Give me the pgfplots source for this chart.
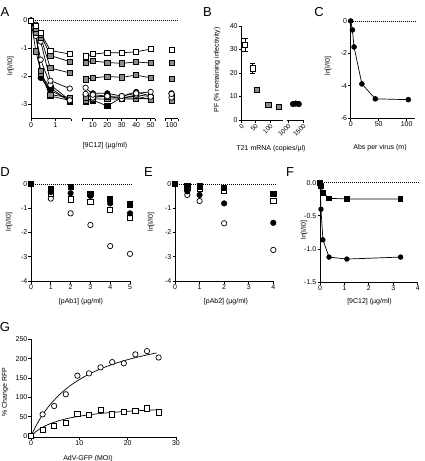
\documentclass[border=0pt]{standalone}
\usepackage{fontspec}
\setmainfont{Liberation Sans}
\usepackage{pgfplots}
\usepackage{pgfplotstable}
\pgfplotsset{compat=1.18}

\newcommand{\tl}{\fontsize{7}{8}\selectfont}
\newcommand{\pl}{\fontsize{13}{14}\selectfont}

\pgfplotsset{
  pr/.style={
    scale only axis, anchor=south west, clip=false,
    axis x line*=bottom, axis y line*=left,
    axis line style={line width=0.9pt, -},
    tick align=outside, major tick length=2.5pt,
    every tick/.append style={line width=0.9pt, black},
    tick label style={font=\tl, inner sep=1pt},
    enlargelimits=false,
  },
  noy/.style={axis y line=none, ytick=\empty},
  ln/.style={black, line width=0.7pt},
  osq/.style={mark=square*, mark size=2.6pt, mark options={fill=white, draw=black, line width=0.7pt, solid}},
  gsq/.style={mark=square*, mark size=2.6pt, mark options={fill=black!45, draw=black, line width=0.7pt, solid}},
  bsq/.style={mark=square*, mark size=2.6pt, mark options={fill=black, draw=black, line width=0.7pt, solid}},
  oci/.style={mark=*, mark size=2.7pt, mark options={fill=white, draw=black, line width=0.7pt, solid}},
  bci/.style={mark=*, mark size=2.7pt, mark options={fill=black, draw=black, line width=0.7pt, solid}},
  zero/.style={black, line width=0.6pt, dash pattern=on 0.8pt off 1.2pt},
  rotlab/.style={xticklabel style={rotate=45, anchor=north east, inner sep=0.5pt,
      font=\fontsize{6.5}{7}\selectfont}},
}

% Panel A: 9C12 titration, broken x axis (three segments)
\pgfplotstableread{
x    s1    s2    s3    s4    s5    s6    s7    s8    s9
0    0     0     0     0     0     0     0     0     0
0.2  -0.18 -0.30 -0.42 -0.15 -0.55 -1.10 -0.33 -0.30 -0.40
0.4  -0.45 -0.50 -0.60 -0.75 -1.40 -1.80 -2.05 -1.95 -1.90
0.8  -1.07 -1.25 -1.70 -2.15 -2.30 -2.65 -2.50 -2.40 -2.70
1.6  -1.20 -1.47 -1.87 -2.43 -2.85 -2.75 -2.85 -2.90 -2.85
}\Aone
\pgfplotstableread{
x    s1    s2    s3    s4    s5    s6    s7    s8    s9
5    -1.28 -1.50 -2.10 -2.40 -2.62 -2.75 -2.65 -2.90 -2.85
10   -1.20 -1.45 -2.05 -2.65 -2.75 -2.70 -2.60 -2.85 -2.80
20   -1.15 -1.50 -2.00 -2.70 -2.70 -2.72 -2.60 -3.05 -2.80
30   -1.15 -1.53 -2.03 -2.70 -2.80 -2.75 -2.70 -2.75 -2.80
40   -1.12 -1.48 -1.95 -2.60 -2.65 -2.70 -2.55 -2.78 -2.80
50   -1.02 -1.52 -2.05 -2.55 -2.72 -2.82 -2.70 -2.80 -2.78
}\Atwo
\pgfplotstableread{
x    s1    s2    s3    s4    s5    s6    s7    s8    s9
100  -1.05 -1.50 -2.08 -2.62 -2.75 -2.72 -2.60 -2.82 -2.85
}\Athree

% Panel B: PF versus T21 mRNA (x given as axis position)
\pgfplotstableread{
pos   pf    err
3.7   32.0  2.7
11.4  22.0  2.1
}\Bopen
\pgfplotstableread{
pos   pf
15.4  13.0
27.0  6.4
37.7  5.5
}\Bgray
\pgfplotstableread{
pos   pf
51.7  6.8
54.5  7.0
57.5  6.8
}\Bblack

% Panel D: pAb1
\pgfplotstableread{
x  oc     os     bc     bs
0  0      0      0      0
1  -0.60  -0.42  -0.33  -0.22
2  -1.21  -0.63  -0.38  -0.11
3  -1.69  -0.73  -0.49  -0.41
4  -2.56  -1.07  -0.80  -0.62
5  -2.88  -1.39  -1.21  -0.84
}\Dtab

% Panel E: pAb2
\pgfplotstableread{
x    oc     os     bc     bs
0    0      0      0      0
0.5  -0.45  -0.15  -0.30  -0.08
1    -0.70  -0.20  -0.45  -0.10
2    -1.62  -0.28  -0.80  -0.15
4    -2.72  -0.68  -1.60  -0.42
}\Etab

% Panel G: RFP change versus MOI
\pgfplotstableread{
moi   circ   sq
0     0      0
2.4   56     15.5
4.8   77.5   26
7.2   108    34.5
9.6   156    57
12    162    54
14.4  177.5  67
16.8  191    56
19.2  188    63
21.6  211    65.5
24    219.5  71.5
26.4  203    61
}\Gtab

\begin{document}
\begin{tikzpicture}
\useasboundingbox (0,0) rectangle (424pt,-461pt);

% ---------------- A ----------------
\begin{axis}[pr, at={(31pt,-118.5pt)}, width=40pt, height=98pt,
  xmin=0, xmax=1.65, ymin=-3.5, ymax=0,
  xtick={0,1}, xticklabels={0,1},
  ytick={-3,-2,-1,0}, yticklabels={-3,-2,-1,0},
  extra x ticks={1.65}, extra x tick labels={}]
\addplot[zero] coordinates {(0,0) (6.05,0)};
\addplot[ln, bsq] table[x=x, y=s8] {\Aone};
\addplot[ln, bci] table[x=x, y=s7] {\Aone};
\addplot[ln, gsq] table[x=x, y=s9] {\Aone};
\addplot[ln, gsq] table[x=x, y=s6] {\Aone};
\addplot[ln, oci] table[x=x, y=s5] {\Aone};
\addplot[ln, oci] table[x=x, y=s4] {\Aone};
\addplot[ln, gsq] table[x=x, y=s3] {\Aone};
\addplot[ln, gsq] table[x=x, y=s2] {\Aone};
\addplot[ln, osq] table[x=x, y=s1] {\Aone};
\end{axis}

\begin{axis}[pr, noy, at={(82pt,-118.5pt)}, width=73pt, height=98pt,
  xmin=2.5, xmax=53, ymin=-3.5, ymax=0,
  xtick={10,20,30,40,50}, xticklabels={10,20,30,40,50},
  extra x ticks={2.5,53}, extra x tick labels={,}]
\addplot[ln, bsq] table[x=x, y=s8] {\Atwo};
\addplot[ln, bci] table[x=x, y=s7] {\Atwo};
\addplot[ln, gsq] table[x=x, y=s9] {\Atwo};
\addplot[ln, gsq] table[x=x, y=s6] {\Atwo};
\addplot[ln, oci] table[x=x, y=s5] {\Atwo};
\addplot[ln, oci] table[x=x, y=s4] {\Atwo};
\addplot[ln, gsq] table[x=x, y=s3] {\Atwo};
\addplot[ln, gsq] table[x=x, y=s2] {\Atwo};
\addplot[ln, osq] table[x=x, y=s1] {\Atwo};
\end{axis}

\begin{axis}[pr, noy, at={(165pt,-118.5pt)}, width=13pt, height=98pt,
  xmin=95.5, xmax=104.5, ymin=-3.5, ymax=0,
  xtick={100}, xticklabels={100},
  extra x ticks={95.5,104.5}, extra x tick labels={,}]
\addplot[only marks, bsq] table[x=x, y=s8] {\Athree};
\addplot[only marks, bci] table[x=x, y=s7] {\Athree};
\addplot[only marks, gsq] table[x=x, y=s9] {\Athree};
\addplot[only marks, gsq] table[x=x, y=s6] {\Athree};
\addplot[only marks, oci] table[x=x, y=s5] {\Athree};
\addplot[only marks, oci] table[x=x, y=s4] {\Athree};
\addplot[only marks, gsq] table[x=x, y=s3] {\Athree};
\addplot[only marks, gsq] table[x=x, y=s2] {\Athree};
\addplot[only marks, osq] table[x=x, y=s1] {\Athree};
\end{axis}

% ---------------- B ----------------
\begin{axis}[pr, rotlab, at={(241.3pt,-120pt)}, width=42pt, height=94pt,
  xmin=0, xmax=42, ymin=0, ymax=40,
  xtick={0,14,28.7}, xticklabels={0,50,100},
  ytick={0,10,20,30,40}, yticklabels={0,10,20,30,40}]
\addplot[only marks, osq, error bars/.cd, y dir=both, y explicit,
  error bar style={line width=0.8pt},
  error mark options={rotate=90, mark size=2.6pt, line width=0.8pt}]
  table[x=pos, y=pf, y error=err] {\Bopen};
\addplot[only marks, gsq] table[x=pos, y=pf] {\Bgray};
\end{axis}

\begin{axis}[pr, noy, rotlab, at={(287pt,-120pt)}, width=16pt, height=94pt,
  xmin=45.7, xmax=61.7, ymin=0, ymax=40,
  xtick={46.7,61.7}, xticklabels={1000,1500}]
\addplot[only marks, bci] table[x=pos, y=pf] {\Bblack};
\end{axis}

% ---------------- C ----------------
\begin{axis}[pr, at={(350.7pt,-118.3pt)}, width=64.3pt, height=97.3pt,
  xmin=0, xmax=115, ymin=-6, ymax=0,
  xtick={0,50,100}, xticklabels={0,50,100},
  ytick={-6,-4,-2,0}, yticklabels={-6,-4,-2,0}]
\addplot[zero] coordinates {(0,0) (115,0)};
\addplot[ln, bci, mark size=2.4pt] coordinates {
  (0,0) (3,-0.55) (6,-1.6) (20,-3.88) (44,-4.8) (103,-4.85)};
\end{axis}

% ---------------- D ----------------
\begin{axis}[pr, at={(31pt,-281pt)}, width=99pt, height=97pt,
  xmin=0, xmax=5, ymin=-4, ymax=0,
  xtick={0,1,2,3,4,5}, xticklabels={0,1,2,3,4,5},
  ytick={-4,-3,-2,-1,0}, yticklabels={-4,-3,-2,-1,0}]
\addplot[zero] coordinates {(0,0) (5.1,0)};
\addplot[only marks, oci] table[x=x, y=oc] {\Dtab};
\addplot[only marks, osq] table[x=x, y=os] {\Dtab};
\addplot[only marks, bci] table[x=x, y=bc] {\Dtab};
\addplot[only marks, bsq] table[x=x, y=bs] {\Dtab};
\end{axis}

% ---------------- E ----------------
\begin{axis}[pr, at={(175pt,-281pt)}, width=98.3pt, height=97pt,
  xmin=0, xmax=4, ymin=-4, ymax=0,
  xtick={0,1,2,3,4}, xticklabels={0,1,2,3,4},
  ytick={-4,-3,-2,-1,0}, yticklabels={-4,-3,-2,-1,0}]
\addplot[zero] coordinates {(0,0) (4.1,0)};
\addplot[only marks, oci] table[x=x, y=oc] {\Etab};
\addplot[only marks, osq] table[x=x, y=os] {\Etab};
\addplot[only marks, bci] table[x=x, y=bc] {\Etab};
\addplot[only marks, bsq] table[x=x, y=bs] {\Etab};
\end{axis}

% ---------------- F ----------------
\begin{axis}[pr, at={(320pt,-282.3pt)}, width=97.7pt, height=99.6pt,
  xmin=0, xmax=4, ymin=-1.5, ymax=0,
  xtick={0,1,2,3,4}, xticklabels={0,1,2,3,4},
  ytick={-1.5,-1,-0.5,0}, yticklabels={-1.5,-1.0,-0.5,0.0}]
\addplot[zero] coordinates {(0,0) (4.05,0)};
\addplot[ln, bsq, mark size=2.2pt] coordinates {
  (0,0) (0.04,-0.05) (0.12,-0.15) (0.37,-0.235) (1.1,-0.245) (3.3,-0.245)};
\addplot[ln, bci, mark size=2.3pt] coordinates {
  (0,0) (0.04,-0.4) (0.12,-0.86) (0.37,-1.12) (1.1,-1.15) (3.3,-1.12)};
\end{axis}

% ---------------- G ----------------
\begin{axis}[pr, at={(31pt,-437.2pt)}, width=145pt, height=97.9pt,
  xmin=0, xmax=30, ymin=-3, ymax=250,
  xtick={0,10,20,30}, xticklabels={0,10,20,30},
  ytick={0,50,100,150,200,250}, yticklabels={0,50,100,150,200,250}]
% saturation fits
\addplot[black, line width=0.7pt, smooth] coordinates {
  (0,0) (1,25.6) (2,47.3) (3,65.8) (4,81.9) (6,108.3) (8,129.1) (10,145.9)
  (12,159.8) (14,171.5) (16,181.4) (18,190.0) (20,197.4) (22,203.9)
  (24,209.7) (26,214.9)};
\addplot[black, line width=0.7pt, smooth] coordinates {
  (0,0) (1,11.2) (2,19.8) (3,26.6) (4,32.1) (6,40.5) (8,46.6) (10,51.2)
  (12,54.8) (14,57.8) (16,60.2) (18,62.2) (20,63.9) (22,65.4)
  (24,66.7) (26,67.8)};
\addplot[only marks, oci] table[x=moi, y=circ] {\Gtab};
\addplot[only marks, osq] table[x=moi, y=sq] {\Gtab};
\end{axis}

% ---------------- labels ----------------
\node[font=\pl] at (5pt,-12pt) {A};
\node[font=\pl] at (207.5pt,-12.5pt) {B};
\node[font=\pl] at (319pt,-12.5pt) {C};
\node[font=\pl] at (5pt,-172pt) {D};
\node[font=\pl] at (148.5pt,-172pt) {E};
\node[font=\pl] at (290pt,-172pt) {F};
\node[font=\pl] at (5pt,-327pt) {G};

\node[font=\tl] at (105pt,-146pt) {[9C12] (µg/ml)};
\node[font=\tl, rotate=90] at (10.5pt,-66pt) {ln[I/I0]};
\node[font=\tl] at (271pt,-149pt) {T21 mRNA (copies/µl)};
\node[font=\tl, rotate=90] at (217pt,-70pt) {PF (\% remaining infectivity)};
\node[font=\tl] at (380pt,-148pt) {Abs per virus (m)};
\node[font=\tl, rotate=90] at (328pt,-66pt) {ln[I/I0]};
\node[font=\tl] at (81pt,-302pt) {[pAb1] (µg/ml)};
\node[font=\tl, rotate=90] at (9pt,-222pt) {ln[I/I0]};
\node[font=\tl] at (226pt,-302pt) {[pAb2] (µg/ml)};
\node[font=\tl, rotate=90] at (151pt,-222pt) {ln[I/I0]};
\node[font=\tl] at (369.5pt,-302pt) {[9C12] (µg/ml)};
\node[font=\tl, rotate=90] at (304pt,-230pt) {ln[I/I0]};
\node[font=\tl] at (88pt,-459pt) {AdV-GFP (MOI)};
\node[font=\tl, rotate=90] at (5pt,-392pt) {\% Change RFP};
\end{tikzpicture}
\end{document}
